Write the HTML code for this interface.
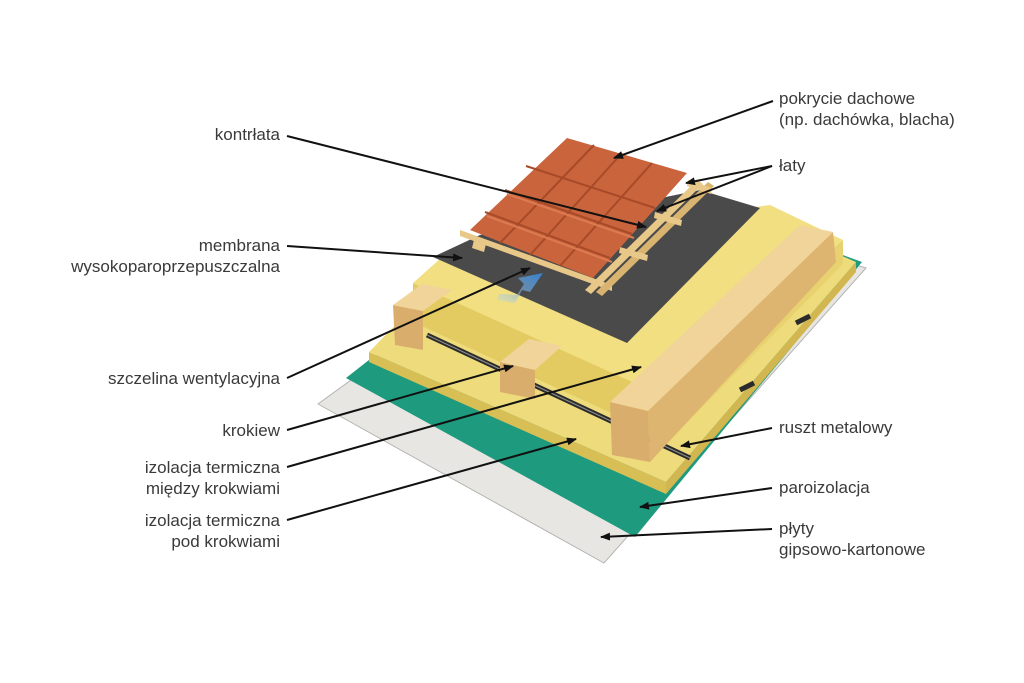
<!DOCTYPE html>
<html><head><meta charset="utf-8">
<style>
html,body{margin:0;padding:0;background:#fff;}
svg{display:block;}
text{font-family:"Liberation Sans",sans-serif;font-size:17px;fill:#3a3a3a;}
</style></head>
<body>
<svg width="1024" height="683" viewBox="0 0 1024 683" xmlns="http://www.w3.org/2000/svg">
<defs>
<marker id="ar" markerWidth="10" markerHeight="8" refX="9" refY="4" orient="auto" markerUnits="userSpaceOnUse">
<path d="M0,0 L10,4 L0,8 z" fill="#111"/>
</marker>
<linearGradient id="bl" x1="0" y1="1" x2="1" y2="0">
<stop offset="0" stop-color="#bcd9ef" stop-opacity="0.3"/>
<stop offset="1" stop-color="#2f7fd0"/>
</linearGradient>
</defs>

<!-- gypsum -->
<polygon points="318,404 604,563 866,268 760,235 420,330" fill="#e7e6e2" stroke="#b5b5b0" stroke-width="1"/>
<!-- green vapour barrier -->
<polygon points="346,378 635,537 862,262 760,225 420,320" fill="#1e9a7e"/>
<!-- lower insulation -->
<polygon points="369,352 666,482 666,494 369,362" fill="#d8bf55"/>
<polygon points="666,482 856,262 856,272 666,494" fill="#d2b64f"/>
<polygon points="369,352 666,482 856,262 760,220 420,300" fill="#eedb7b"/>
<!-- metal rods -->
<line x1="427" y1="335" x2="690" y2="458" stroke="#2b2b2b" stroke-width="5"/>
<line x1="427" y1="335" x2="690" y2="458" stroke="#8a8a8a" stroke-width="1.2"/>
<line x1="740" y1="390" x2="754" y2="383" stroke="#2b2b2b" stroke-width="5"/>
<line x1="796" y1="323" x2="810" y2="316" stroke="#2b2b2b" stroke-width="5"/>
<!-- upper insulation block -->
<polygon points="413,283 668,398 670,440 413,322" fill="#e3cb62"/>
<polygon points="668,398 843,240 843,264 670,440" fill="#e8d270"/>
<polygon points="413,283 668,398 843,240 770,205 450,250" fill="#f1df82"/>
<!-- membrane -->
<polygon points="433,257 627,343 760,208 700,190 480,235" fill="#4a4a4a"/>
<!-- rafters -->
<polygon points="393,305 423,311 423,350 395,345" fill="#d9ad6c"/>
<polygon points="393,305 423,311 452,290 422,284" fill="#f0d49a"/>
<polygon points="500,362 535,370 535,399 500,392" fill="#d9ad6c"/>
<polygon points="500,362 535,370 562,346 529,339" fill="#f0d49a"/>
<polygon points="610,402 648,411 650,462 612,455" fill="#d9ad6c"/>
<polygon points="648,411 833,232 836,262 650,462" fill="#ddb470"/>
<polygon points="610,402 648,411 833,232 800,225" fill="#f0d49a"/>
<!-- battens -->
<polygon points="460,230 612,285 612,291 460,236" fill="#e8c888"/>
<polygon points="585,290 697,180 703,184 591,294" fill="#e8c888"/>
<polygon points="596,292 708,182 714,186 602,296" fill="#d9b470"/>
<polygon points="620,247 648,255 647,261 619,253" fill="#e8c888"/>
<polygon points="655,212 682,220 681,226 654,218" fill="#e8c888"/>
<polygon points="688,180 712,188 711,194 687,186" fill="#e8c888"/>
<polygon points="474,240 486,244 484,252 472,248" fill="#e8c888"/>
<!-- tiles -->
<polygon points="470,230 593,278 687,173 567,138" fill="#c9643d"/>
<g stroke="#a84a28" stroke-width="2" fill="none">
<path d="M485,212 L610,258"/>
<path d="M505,190 L632,234"/>
<path d="M526,166 L655,208"/>
<path d="M500,243 L594,145"/>
<path d="M530,255 L622,153"/>
<path d="M560,266 L652,163"/>
</g>
<g stroke="#dc7a52" stroke-width="2" fill="none">
<path d="M487,216 L612,262"/>
<path d="M507,194 L634,238"/>
</g>
<!-- blue arrow -->
<polygon points="497,300 515,303 522,290 530,292 543,273 518,278 524,284 517,295 499,294" fill="url(#bl)"/>

<!-- leader lines -->
<g stroke="#111" stroke-width="2" fill="none" marker-end="url(#ar)">
<line x1="287" y1="136" x2="646" y2="227"/>
<line x1="287" y1="246" x2="462" y2="258"/>
<line x1="287" y1="378" x2="530" y2="268"/>
<line x1="287" y1="430" x2="513" y2="366"/>
<line x1="287" y1="467" x2="641" y2="367"/>
<line x1="287" y1="520" x2="576" y2="439"/>
<line x1="773" y1="101" x2="614" y2="158"/>
<line x1="772" y1="166" x2="686" y2="183"/>
<line x1="772" y1="166" x2="657" y2="211"/>
<line x1="772" y1="428" x2="681" y2="446"/>
<line x1="772" y1="488" x2="640" y2="507"/>
<line x1="772" y1="529" x2="601" y2="537"/>
</g>

<!-- labels -->
<g text-anchor="end">
<text x="280" y="140">kontrłata</text>
<text x="280" y="251">membrana</text>
<text x="280" y="272">wysokoparoprzepuszczalna</text>
<text x="280" y="384">szczelina wentylacyjna</text>
<text x="280" y="436">krokiew</text>
<text x="280" y="473">izolacja termiczna</text>
<text x="280" y="494">między krokwiami</text>
<text x="280" y="526">izolacja termiczna</text>
<text x="280" y="547">pod krokwiami</text>
</g>
<text x="779" y="104">pokrycie dachowe</text>
<text x="779" y="125">(np. dachówka, blacha)</text>
<text x="779" y="171">łaty</text>
<text x="779" y="433">ruszt metalowy</text>
<text x="779" y="493">paroizolacja</text>
<text x="779" y="534">płyty</text>
<text x="779" y="555">gipsowo-kartonowe</text>
</svg>
</body></html>
